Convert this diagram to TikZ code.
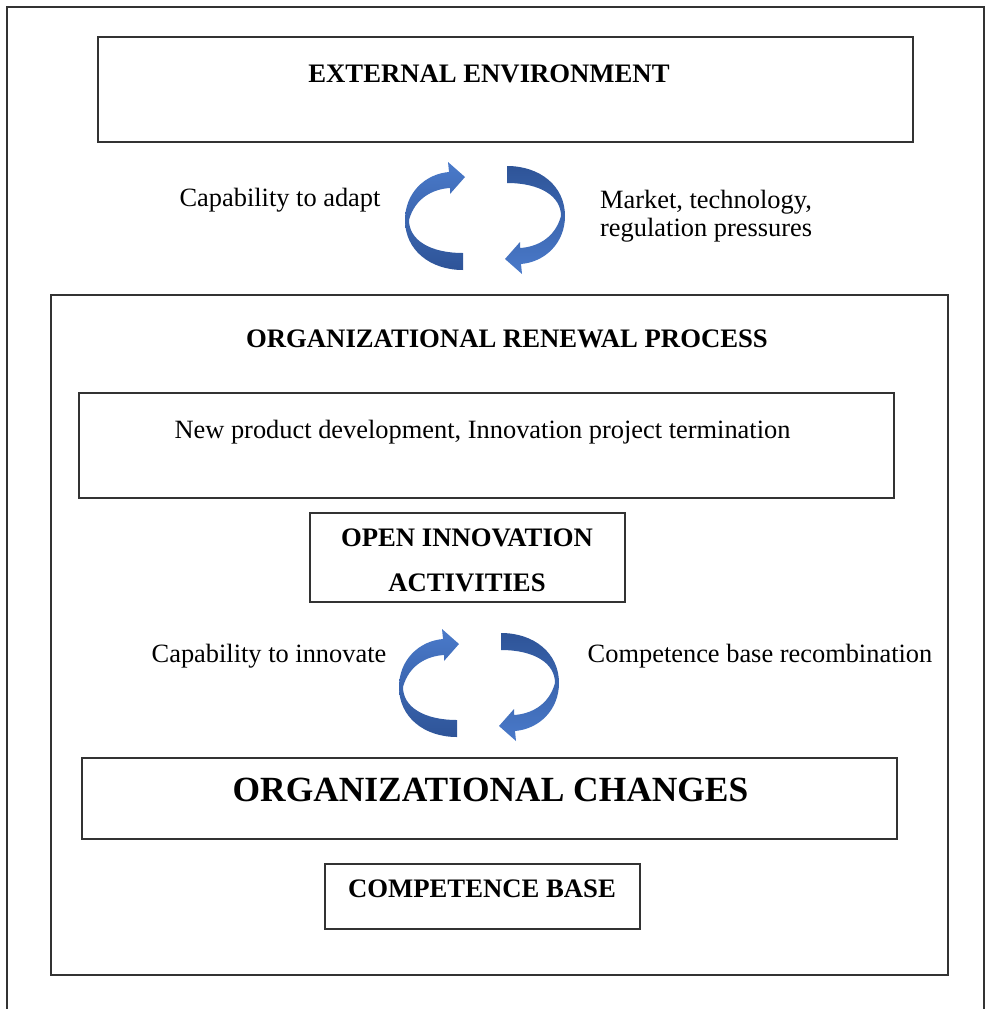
\documentclass[tikz,border=0pt]{standalone}
\usepackage{fontspec}
\setmainfont{Liberation Serif}

\definecolor{arrowlight}{RGB}{74,122,202}
\definecolor{arrowdark}{RGB}{46,84,152}

\tikzset{
  boxline/.style={draw=black!80, line width=1.4pt},
  labeltext/.style={font=\fontsize{26.4}{28}\selectfont, inner sep=0pt, anchor=base},
  headtext/.style={labeltext, font=\fontsize{26.7}{28}\selectfont\bfseries},
  % ribbon arrow turning round, drawn about its centre
  pics/turn/.style n args={3}{code={
    \shade[rotate=#1, top color=#2, bottom color=#3]
      (-22,52) .. controls (-55,52) and (-80,32) .. (-80,2)
      .. controls (-80,-25) and (-60,-44) .. (-36,-46)
      -- (-37,-56) -- (-20,-41) -- (-35,-24) -- (-35,-30)
      .. controls (-52,-29) and (-70,-20) .. (-76,2)
      .. controls (-76,22) and (-55,35) .. (-22,35) -- cycle;
  }}
}

\begin{document}
\begin{tikzpicture}[x=1pt, y=-1pt]
    \useasboundingbox (0,0) rectangle (985,1009);
    % Outer frame, open at the bottom
    \draw[boxline] (7,1020) |- (984,7) -- (984,1020);

    % Boxes
    \draw[boxline] (98,37) rectangle (913,142);
    \draw[boxline] (51,295) rectangle (948,975);
    \draw[boxline] (79,393) rectangle (894,498);
    \draw[boxline] (310,513) rectangle (625,602);
    \draw[boxline] (82,758) rectangle (897,839);
    \draw[boxline] (325,864) rectangle (640,929);

    % Top loop
    \node[headtext] (external) at (489,82) {EXTERNAL ENVIRONMENT};
    \node[labeltext] (adapt) at (280,206) {Capability to adapt};
    \node[labeltext, anchor=base west] (market) at (600,208) {Market, technology,};
    \node[labeltext, anchor=base west] (regulation) at (600,236) {regulation pressures};
    \pic at (485,218) {turn={0}{arrowlight}{arrowdark}};
    \pic at (485,218) {turn={180}{arrowdark}{arrowlight}};

    % Renewal process
    \node[headtext] (renewal) at (507,347) {ORGANIZATIONAL RENEWAL PROCESS};
    \node[labeltext] (newproduct) at (482.5,438) {New product development, Innovation project termination};
    \node[headtext] (open) at (467,546) {OPEN INNOVATION};
    \node[headtext] (activities) at (467,591) {ACTIVITIES};

    % Bottom loop
    \node[labeltext] (innovate) at (269,662) {Capability to innovate};
    \node[labeltext] (recombination) at (760,662) {Competence base recombination};
    \pic at (479,685) {turn={0}{arrowlight}{arrowdark}};
    \pic at (479,685) {turn={180}{arrowdark}{arrowlight}};

    \node[headtext, font=\fontsize{35.4}{38}\selectfont\bfseries] (changes) at (490.5,801) {ORGANIZATIONAL CHANGES};
    \node[headtext] (competence) at (482,897) {COMPETENCE BASE};
\end{tikzpicture}
\end{document}
